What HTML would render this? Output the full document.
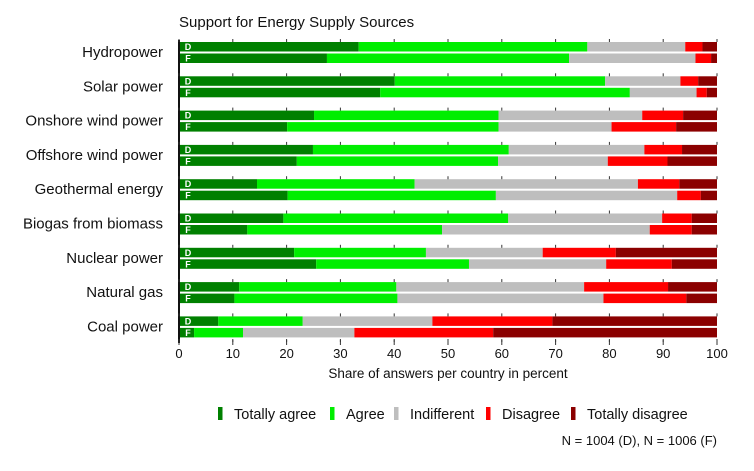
<!DOCTYPE html>
<html><head><meta charset="utf-8"><style>
body{margin:0;background:#fff;}
svg{display:block;font-family:"Liberation Sans",sans-serif;}
</style></head><body>
<svg id="chart" width="754" height="471" viewBox="0 0 754 471">
<text x="179" y="27" font-size="15" fill="#111">Support for Energy Supply Sources</text>
<g id="bars"></g>
<g id="axis"></g>
<text x="448" y="378" font-size="13.5" text-anchor="middle" fill="#111">Share of answers per country in percent</text>
<g id="legend"></g>
<text x="717" y="445" font-size="13" text-anchor="end" fill="#111">N = 1004 (D), N = 1006 (F)</text>
</svg>
<script>
const categories = ["Hydropower","Solar power","Onshore wind power","Offshore wind power","Geothermal energy","Biogas from biomass","Nuclear power","Natural gas","Coal power"];
const responses = ["Totally agree","Agree","Indifferent","Disagree","Totally disagree"];
const colors = ["#008000","#00ee00","#bebebe","#ff0000","#8b0000"];
const germany = [
 [33.4,42.5,18.2,3.2,2.7],
 [40.1,39.1,14.0,3.3,3.5],
 [25.1,34.3,26.7,7.6,6.3],
 [24.9,36.4,25.2,7.0,6.5],
 [14.5,29.3,41.5,7.7,7.0],
 [19.4,41.8,28.6,5.5,4.7],
 [21.4,24.5,21.7,13.6,18.8],
 [11.2,29.2,34.9,15.6,9.1],
 [7.3,15.7,24.1,22.3,30.6]
];
const france = [
 [27.5,45.0,23.5,2.9,1.1],
 [37.4,46.4,12.4,1.9,1.9],
 [20.1,39.3,21.0,12.0,7.6],
 [21.9,37.4,20.4,11.1,9.2],
 [20.2,38.7,33.7,4.4,3.0],
 [12.7,36.2,38.6,7.8,4.7],
 [25.5,28.4,25.5,12.2,8.4],
 [10.3,30.3,38.3,15.4,5.7],
 [2.8,9.1,20.7,25.8,41.6]
];
const xTicks = [0,10,20,30,40,50,60,70,80,90,100];

const NS="http://www.w3.org/2000/svg";
const x0=179, x1=717;
const xs = v => x0 + (x1-x0)*v/100;
const groupTop = i => 42 + i*34.3;
const barH = 9.5;
function mk(tag, attrs, parent){const e=document.createElementNS(NS,tag);for(const k in attrs)e.setAttribute(k,attrs[k]);parent.appendChild(e);return e;}
const bars=document.getElementById('bars');
categories.forEach((cat,i)=>{
  const gy=groupTop(i);
  const lab=mk('text',{x:163,y:gy+15,'font-size':15,'text-anchor':'end',fill:'#111'},bars);
  lab.textContent=cat;
  
  
  [[germany,'D',0],[france,'F',1]].forEach(([data,code,k])=>{
    const y=gy+k*(barH+2);
    let cum=0;
    data[i].forEach((v,j)=>{
      const r=mk('rect',{x:xs(cum),y:y,width:xs(cum+v)-xs(cum),height:barH,fill:colors[j]},bars);
      
      
      cum+=v;
    });
    const t=mk('text',{x:x0+9,y:y+8,'font-size':9,'font-weight':'bold',fill:'#fff','text-anchor':'middle'},bars);
    t.textContent=code;
    
    
  });
});
const axis=document.getElementById('axis');
mk('line',{x1:x0,y1:40,x2:x0,y2:343,stroke:'#111','stroke-width':2},axis);
xTicks.forEach(v=>{
  for(let i=0;i<=categories.length;i++){
    const gy=i<categories.length?groupTop(i)-3:339;
    mk('line',{x1:xs(v),y1:gy,x2:xs(v),y2:gy+3,stroke:'#333','stroke-width':1},axis);
  }
  mk('line',{x1:xs(v),y1:340,x2:xs(v),y2:345,stroke:'#333','stroke-width':1},axis);
  const t=mk('text',{x:xs(v),y:358,'font-size':13,'text-anchor':'middle',fill:'#111'},axis);
  t.textContent=v;
  
  
});
const legend=document.getElementById('legend');
const lx=[218,330,394,486,571];
responses.forEach((r,j)=>{
  const g=mk('g',{},legend);
  
  
  mk('rect',{x:lx[j],y:407,width:4.5,height:13,fill:colors[j]},g);
  const t=mk('text',{x:lx[j]+16,y:419,'font-size':14.5,fill:'#111'},g);
  t.textContent=r;
});
</script>
</body></html>
